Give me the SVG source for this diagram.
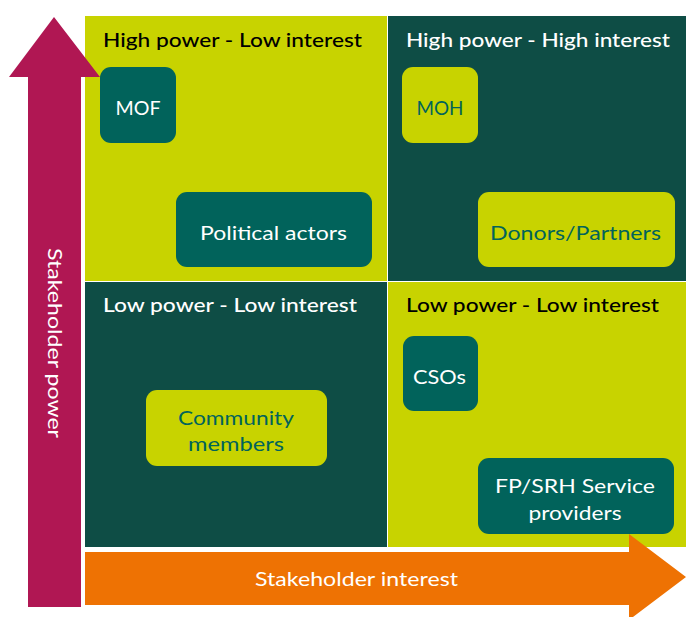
<svg xmlns="http://www.w3.org/2000/svg" width="686" height="617" viewBox="0 0 686 617">
<style>
text{font-family:Lato,"Open Sans","Liberation Sans",sans-serif;font-size:20px}
.lime{fill:#C8D300}
.dark{fill:#0E4D45}
.teal{fill:#01635B}
.hd{font-weight:500}
.w{fill:#FFFFFF}
.k{fill:#000000}
.t{fill:#01635B}
.c{text-anchor:middle}
</style>
<rect width="686" height="617" fill="#FFFFFF"/>
<g id="quadrants">
<rect class="lime" x="85" y="16" width="302" height="265"/>
<rect class="dark" x="388" y="16" width="298" height="265"/>
<rect class="dark" x="85" y="282" width="302" height="265"/>
<rect class="lime" x="388" y="282" width="298" height="265"/>
<text class="hd k" x="103" y="47" textLength="259" lengthAdjust="spacingAndGlyphs">High power - Low interest</text>
<text class="hd w" x="406" y="47" textLength="264" lengthAdjust="spacingAndGlyphs">High power - High interest</text>
<text class="hd w" x="103" y="312" textLength="254" lengthAdjust="spacingAndGlyphs">Low power - Low interest</text>
<text class="hd k" x="406" y="312" textLength="253" lengthAdjust="spacingAndGlyphs">Low power - Low interest</text>
</g>
<g id="axes">
<polygon fill="#B01753" points="54,17 100,77 81,77 81,607 28,607 28,77 9,77"/>
<text class="w c" transform="translate(48,343) rotate(90)" textLength="190" lengthAdjust="spacingAndGlyphs">Stakeholder power</text>
<polygon fill="#EE7203" points="85,552 629,552 629,534 686,577 629,620 629,605 85,605"/>
<text class="w c" x="356.5" y="586" textLength="203" lengthAdjust="spacingAndGlyphs">Stakeholder interest</text>
</g>
<g id="node-mof">
<rect class="teal" x="100" y="67" width="76" height="76" rx="11"/>
<text class="w c" x="138" y="115" textLength="45" lengthAdjust="spacingAndGlyphs">MOF</text>
</g>
<g id="node-moh">
<rect class="lime" x="402" y="67" width="76" height="76" rx="11"/>
<text class="t c" x="440" y="115" textLength="47" lengthAdjust="spacingAndGlyphs">MOH</text>
</g>
<g id="node-political">
<rect class="teal" x="176" y="192" width="196" height="75" rx="11"/>
<text class="w c" x="273.5" y="240" textLength="147" lengthAdjust="spacingAndGlyphs">Political actors</text>
</g>
<g id="node-donors">
<rect class="lime" x="478" y="192" width="197" height="75" rx="11"/>
<text class="t c" x="575.5" y="240" textLength="171" lengthAdjust="spacingAndGlyphs">Donors/Partners</text>
</g>
<g id="node-csos">
<rect class="teal" x="403" y="336" width="75" height="75" rx="11"/>
<text class="w c" x="439.5" y="384" textLength="53" lengthAdjust="spacingAndGlyphs">CSOs</text>
</g>
<g id="node-community">
<rect class="lime" x="146" y="390" width="181" height="76" rx="11"/>
<text class="t c" x="236" y="425" textLength="116" lengthAdjust="spacingAndGlyphs">Community</text>
<text class="t c" x="236" y="451" textLength="96" lengthAdjust="spacingAndGlyphs">members</text>
</g>
<g id="node-fpsrh">
<rect class="teal" x="478" y="458" width="196" height="76" rx="11"/>
<text class="w c" x="575" y="493" textLength="160" lengthAdjust="spacingAndGlyphs">FP/SRH Service</text>
<text class="w c" x="575" y="520" textLength="93" lengthAdjust="spacingAndGlyphs">providers</text>
</g>
<g id="connectors"></g>
</svg>
